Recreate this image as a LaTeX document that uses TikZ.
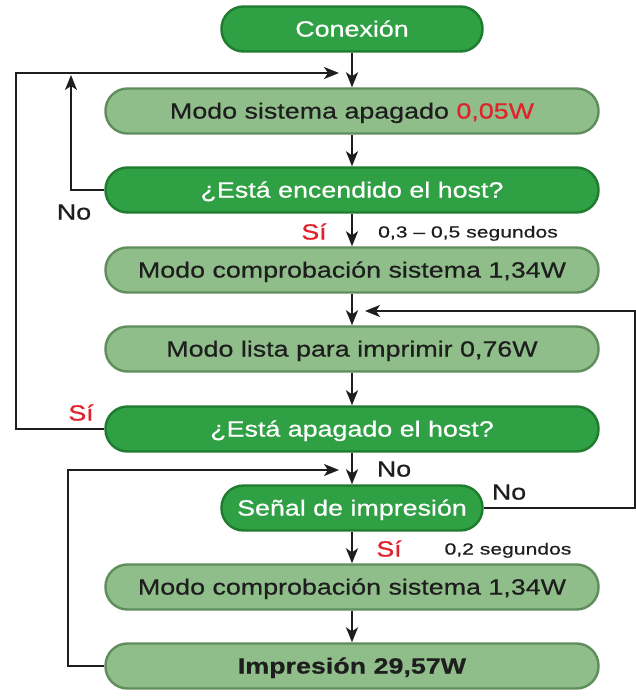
\documentclass[tikz,border=0pt]{standalone}
\usepackage{fontspec}
\setmainfont{Liberation Sans}[FakeStretch=1.22,FakeBold=0.6]
\newfontfamily\smallf{Liberation Sans}[FakeStretch=1.32,FakeBold=0.5]
\usetikzlibrary{arrows.meta}
\definecolor{dkg}{HTML}{2FA044}
\definecolor{dkgb}{HTML}{1E7B30}
\definecolor{ltg}{HTML}{8FBE8A}
\definecolor{ltgb}{HTML}{5F8E5C}
\definecolor{txt}{HTML}{1E1E1E}
\definecolor{redt}{HTML}{E0222B}
\begin{document}
\begin{tikzpicture}[x=1pt,y=-1pt,
  base/.style={rounded corners=22pt, minimum height=45pt, line width=2.4pt, inner sep=0pt,
    text height=15.1pt, text depth=0pt, font=\fontsize{22}{26}\selectfont},
  dark/.style={base, fill=dkg, draw=dkgb, text=white},
  light/.style={base, fill=ltg, draw=ltgb, text=txt},
  wide/.style={minimum width=493pt},
  narrow/.style={minimum width=261pt},
  conn/.style={line width=1.8pt, draw=txt},
  arr/.style={conn, -{Stealth[length=15pt,width=12pt,inset=4pt]}},
  lbl/.style={font=\fontsize{22}{26}\selectfont, text=txt, inner sep=0pt, text height=15.1pt, text depth=0pt},
  redlbl/.style={lbl, text=redt},
  small/.style={font=\smallf\fontsize{16}{19}\selectfont, text=txt, inner sep=0pt, text height=11pt, text depth=0pt}
]
\useasboundingbox[fill=white] (0,0) rectangle (636,698);

\node[dark,narrow] (c) at (352,29) {Conexión};
\node[light,wide] (m1) at (352,111) {Modo sistema apagado \textcolor{redt}{0,05W}};
\node[dark,wide] (q1) at (352,190) {¿Está encendido el host?};
\node[light,wide] (m2) at (352,270) {Modo comprobación sistema 1,34W};
\node[light,wide] (m3) at (352,349) {Modo lista para imprimir 0,76W};
\node[dark,wide] (q2) at (352,429) {¿Está apagado el host?};
\node[dark,narrow] (s) at (352,508) {Señal de impresión};
\node[light,wide] (m4) at (352,587) {Modo comprobación sistema 1,34W};
\node[light,wide] (p) at (352,666) {\bfseries Impresión 29,57W};

\coordinate (j1) at (339,73);
\coordinate (j2) at (365,311);
\coordinate (j3) at (339,470);
\coordinate (xl) at (16,73);
\coordinate (xn) at (71,75);
\coordinate (xr) at (635,311);
\coordinate (xb) at (68,470);

\draw[arr] (c) -- (m1);
\draw[arr] (m1) -- (q1);
\draw[arr] (q1) -- (m2);
\draw[arr] (m2) -- (m3);
\draw[arr] (m3) -- (q2);
\draw[arr] (q2) -- (s);
\draw[arr] (s) -- (m4);
\draw[arr] (m4) -- (p);

\draw[arr] (q2.west) -| (xl) -- (j1);
\draw[arr] (q1.west) -| (xn);
\draw[arr] (s.east) -| (xr) -- (j2);
\draw[arr] (p.west) -| (xb) -- (j3);

\node[lbl] (no1) at (74,212) {No};
\node[redlbl] (si1) at (314,232) {Sí};
\node[small] (t1) at (468,232) {0,3 – 0,5 segundos};
\node[redlbl] (si2) at (81,413) {Sí};
\node[lbl] (no2) at (394,469) {No};
\node[lbl] (no3) at (509,492) {No};
\node[redlbl] (si3) at (389,549) {Sí};
\node[small] (t2) at (508,549) {0,2 segundos};
\end{tikzpicture}
\end{document}
